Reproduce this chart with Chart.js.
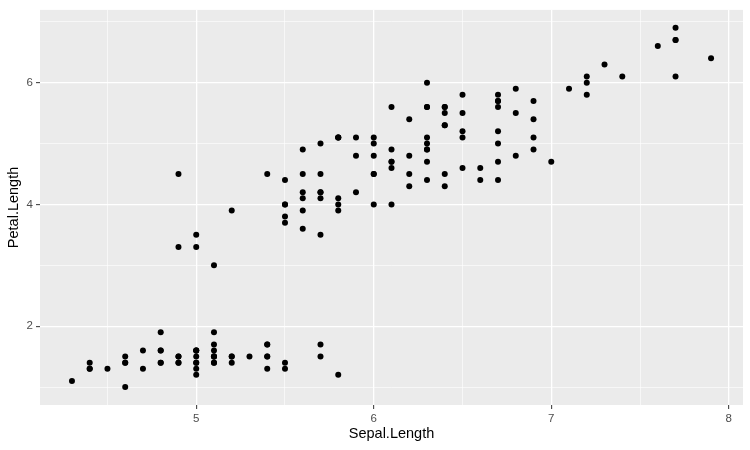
<!DOCTYPE html>
<html>
<head>
<meta charset="utf-8">
<script src="https://cdn.jsdelivr.net/npm/chart.js@4"></script>
<style>
  body { margin: 0; background: #fff; }
  #wrap { width: 750px; height: 450px; }
</style>
</head>
<body>
<div id="wrap"><canvas id="chart" width="750" height="450"></canvas></div>
<script>
// iris: Sepal.Length vs Petal.Length
const sepalLength = [
  5.1,4.9,4.7,4.6,5.0,5.4,4.6,5.0,4.4,4.9,5.4,4.8,4.8,4.3,5.8,5.7,5.4,5.1,5.7,5.1,
  5.4,5.1,4.6,5.1,4.8,5.0,5.0,5.2,5.2,4.7,4.8,5.4,5.2,5.5,4.9,5.0,5.5,4.9,4.4,5.1,
  5.0,4.5,4.4,5.0,5.1,4.8,5.1,4.6,5.3,5.0,
  7.0,6.4,6.9,5.5,6.5,5.7,6.3,4.9,6.6,5.2,5.0,5.9,6.0,6.1,5.6,6.7,5.6,5.8,6.2,5.6,
  5.9,6.1,6.3,6.1,6.4,6.6,6.8,6.7,6.0,5.7,5.5,5.5,5.8,6.0,5.4,6.0,6.7,6.3,5.6,5.5,
  5.5,6.1,5.8,5.0,5.6,5.7,5.7,6.2,5.1,5.7,
  6.3,5.8,7.1,6.3,6.5,7.6,4.9,7.3,6.7,7.2,6.5,6.4,6.8,5.7,5.8,6.4,6.5,7.7,7.7,6.0,
  6.9,5.6,7.7,6.3,6.7,7.2,6.2,6.1,6.4,7.2,7.4,7.9,6.4,6.3,6.1,7.7,6.3,6.4,6.0,6.9,
  6.7,6.9,5.8,6.8,6.7,6.7,6.3,6.5,6.2,5.9
];
const petalLength = [
  1.4,1.4,1.3,1.5,1.4,1.7,1.4,1.5,1.4,1.5,1.5,1.6,1.4,1.1,1.2,1.5,1.3,1.4,1.7,1.5,
  1.7,1.5,1.0,1.7,1.9,1.6,1.6,1.5,1.4,1.6,1.6,1.5,1.5,1.4,1.5,1.2,1.3,1.4,1.3,1.5,
  1.3,1.3,1.3,1.6,1.9,1.4,1.6,1.4,1.5,1.4,
  4.7,4.5,4.9,4.0,4.6,4.5,4.7,3.3,4.6,3.9,3.5,4.2,4.0,4.7,3.6,4.4,4.5,4.1,4.5,3.9,
  4.8,4.0,4.9,4.7,4.3,4.4,4.8,5.0,4.5,3.5,3.8,3.7,3.9,5.1,4.5,4.5,4.7,4.4,4.1,4.0,
  4.4,4.6,4.0,3.3,4.2,4.2,4.2,4.3,3.0,4.1,
  6.0,5.1,5.9,5.6,5.8,6.6,4.5,6.3,5.8,6.1,5.1,5.3,5.5,5.0,5.1,5.3,5.5,6.7,6.9,5.0,
  5.7,4.9,6.7,4.9,5.7,6.0,4.8,4.9,5.6,5.8,6.1,6.4,5.6,5.1,5.6,6.1,5.6,5.5,4.8,5.4,
  5.6,5.1,5.1,5.9,5.7,5.2,5.0,5.2,5.4,5.1
];
const xTicks = [4.5, 5, 5.5, 6, 6.5, 7, 7.5, 8];
const yTicks = [1, 2, 3, 4, 5, 6, 7];
const xLabeled = [5, 6, 7, 8];
const yLabeled = [2, 4, 6];

const points = sepalLength.map((x, i) => ({ x: x, y: petalLength[i] }));

// grey panel like ggplot
const panelBg = {
  id: 'panelBg',
  beforeDraw(chart) {
    const { ctx, chartArea: a } = chart;
    ctx.save();
    ctx.fillStyle = '#EBEBEB';
    ctx.fillRect(a.left, a.top, a.right - a.left, a.bottom - a.top);
    ctx.restore();
  }
};

function axisOpts(ticks, labeled, title, isX) {
  const major = v => labeled.includes(v);
  return {
    type: 'linear',
    afterBuildTicks: axis => { axis.ticks = ticks.map(v => ({ value: v })); },
    afterFit: scale => {
      if (isX) scale.height = 45; else scale.width = 40;
    },
    border: { display: false },
    grid: {
      color: '#FFFFFF',
      lineWidth: c => major(c.tick.value) ? 1.3 : 0.6,
      tickColor: c => major(c.tick.value) ? '#333333' : 'rgba(0,0,0,0)',
      tickWidth: 1,
      tickLength: 4,
      drawTicks: true
    },
    ticks: {
      autoSkip: false,
      maxRotation: 0,
      padding: 3,
      color: '#4D4D4D',
      font: { family: 'Liberation Sans', size: 11.5 },
      callback: v => major(v) ? String(v) : ''
    },
    title: {
      display: true,
      text: title,
      color: '#000000',
      font: { family: 'Liberation Sans', size: 14.5 },
      padding: isX ? { top: 0, bottom: 7.5 } : { top: 5.5, bottom: 0 }
    }
  };
}

const xAxis = axisOpts(xTicks, xLabeled, 'Sepal.Length', true);
xAxis.position = 'bottom';
xAxis.min = 4.12; xAxis.max = 8.08;
const yAxis = axisOpts(yTicks, yLabeled, 'Petal.Length', false);
yAxis.position = 'left';
yAxis.min = 0.705; yAxis.max = 7.195;

new Chart(document.getElementById('chart').getContext('2d'), {
  type: 'scatter',
  data: {
    datasets: [{
      data: points,
      backgroundColor: '#000000',
      borderWidth: 0,
      pointRadius: 3,
      pointHoverRadius: 3
    }]
  },
  options: {
    responsive: false,
    animation: false,
    devicePixelRatio: 1,
    layout: { padding: { top: 7, right: 7, left: 0, bottom: 0 } },
    plugins: { legend: { display: false }, tooltip: { enabled: false } },
    scales: { x: xAxis, y: yAxis }
  },
  plugins: [panelBg]
});
</script>
</body>
</html>
